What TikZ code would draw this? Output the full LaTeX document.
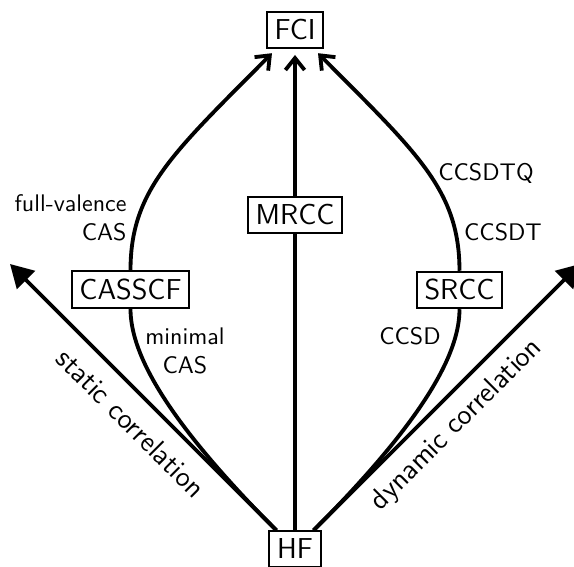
\documentclass[tikz,border=0pt]{standalone}
\usetikzlibrary{arrows.meta}
\begin{document}
\begin{tikzpicture}[x=0.41667pt,y=0.41667pt,
  box/.style={draw,thick,fill=white,font=\sffamily\large,inner sep=3.2pt},
  lbl/.style={font=\sffamily},
  axlbl/.style={font=\sffamily\large},
  curve/.style={line width=1.6pt},
  tocurve/.style={line width=1.6pt,-{Straight Barb[length=5pt,width=8pt]},shorten >=2.5pt},
  big/.style={line width=1.6pt,-{Triangle[length=9.5pt,width=10.5pt]}},
]
\useasboundingbox (0,0) rectangle (574,567);
\coordinate (st) at (10,303);
\coordinate (dy) at (580,303);
\node[box] (HF) at (295,18) {HF};
\draw[big] (HF) -- (st);
\draw[big] (HF) -- (dy);
\node[box] (FCI) at (295,537) {FCI};
\node[box] (MRCC) at (295,352) {MRCC};
\node[box] (CAS) at (130.5,277.5) {CASSCF};
\node[box] (SRCC) at (459.5,277) {SRCC};
% left branch
\draw[curve] (HF.135) .. controls (157,156) and (130.5,219) .. (CAS.south);
\draw[tocurve] (CAS.north) .. controls (130.5,377) and (173,414) .. (FCI);
% right branch
\draw[curve] (HF.45) .. controls (433,156) and (459.5,219) .. (SRCC.south);
\draw[tocurve] (SRCC.north) .. controls (459.5,377) and (417,414) .. (FCI);
% centre
\draw[curve] (HF) -- (MRCC);
\draw[tocurve] (MRCC) -- (FCI);
\node[lbl,align=right,anchor=east] (fv) at (135,349) {full-valence\\CAS};
\node[lbl,align=center] (mc) at (185,216) {minimal\\CAS};
\node[lbl] (q) at (486,394) {CCSDTQ};
\node[lbl] (t) at (503,335) {CCSDT};
\node[lbl] (d) at (410,231) {CCSD};
\node[axlbl,rotate=-45] (sc) at (131,144) {static correlation};
\node[axlbl,rotate=45] (dc) at (457,142) {dynamic correlation};
\end{tikzpicture}
\end{document}
